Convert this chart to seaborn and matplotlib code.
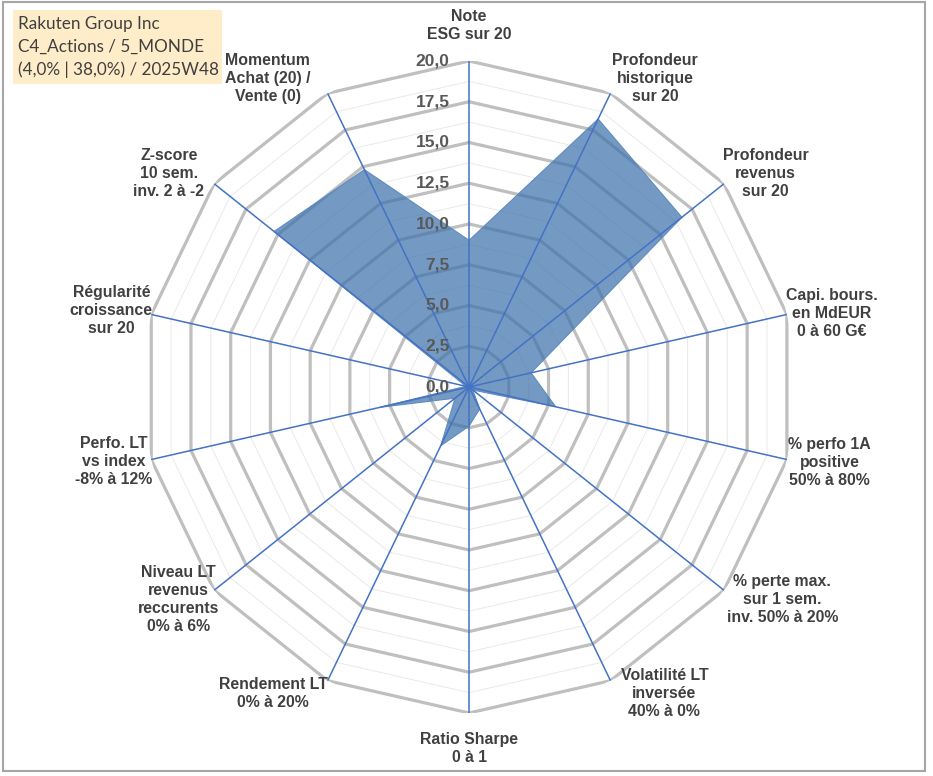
import numpy as np
import seaborn as sns
import matplotlib.pyplot as plt
from matplotlib.patches import Rectangle

# Données du radar (sens horaire depuis le haut)
categories = [
    "Note\nESG sur 20",
    "Profondeur\nhistorique\nsur 20",
    "Profondeur\nrevenus\nsur 20",
    "Capi. bours.\nen MdEUR\n0 à 60 G€",
    "% perfo 1A\npositive\n50% à 80%",
    "% perte max.\nsur 1 sem.\ninv. 50% à 20%",
    "Volatilité LT\ninversée\n40% à 0%",
    "Ratio Sharpe\n0 à 1",
    "Rendement LT\n0% à 20%",
    "Niveau LT\nrevenus\nreccurents\n0% à 6%",
    "Perfo. LT\nvs index\n-8% à 12%",
    "Régularité\ncroissance\nsur 20",
    "Z-score\n10 sem.\ninv. 2 à -2",
    "Momentum\nAchat (20) /\nVente (0)",
]
values = [9.0, 18.25, 16.7, 3.9, 5.45, 0.3, 1.5, 2.4, 4.0, 1.1, 5.6, 0.2, 15.3, 14.8]
rticks = [0.0, 2.5, 5.0, 7.5, 10.0, 12.5, 15.0, 17.5, 20.0]
rtick_labels = ["0,0", "2,5", "5,0", "7,5", "10,0", "12,5", "15,0", "17,5", "20,0"]
title_lines = ["Rakuten Group Inc", "C4_Actions / 5_MONDE", "(4,0% | 38,0%) / 2025W48"]

# position des libellés (angle en degrés, rayon en unités)
label_pos = [(0, 22.15), (31.1, 22.1), (54.3, 22.4), (78.5, 22.7), (101.9, 22.6),
             (124.1, 23.2), (147.5, 22.3), (180, 22.2), (212.6, 22.3), (233.8, 22.1),
             (258.1, 22.3), (282.1, 22.45), (305.4, 22.6), (326.9, 22.6)]

sns.set_theme(style="white")
plt.rcParams['font.family'] = ['Liberation Sans', 'DejaVu Sans']

fig = plt.figure(figsize=(9.33, 7.76), dpi=100)
ax = fig.add_axes([0.1533, 0.0812, 0.6989, 0.8402], projection='polar')
ax.set_theta_zero_location('N')
ax.set_theta_direction(-1)

n = len(categories)
theta = np.linspace(0, 2 * np.pi, n, endpoint=False)
theta_closed = np.append(theta, theta[0])

# grille polygonale
for r in np.arange(1.25, 20.01, 1.25):
    major = abs(r / 2.5 - round(r / 2.5)) < 1e-6
    ax.plot(theta_closed, [r] * (n + 1),
            color='#BFBFBF' if major else '#E9E9E9',
            lw=2.3 if major else 0.7, zorder=1, solid_joinstyle='miter')

# surface
vals_closed = values + values[:1]
ax.fill(theta_closed, vals_closed, color='#3f73ad', alpha=0.72, lw=0, zorder=2)
ax.plot(theta_closed, vals_closed, color='#5f8cc0', lw=0.8, zorder=2)

# rayons
for t in theta:
    ax.plot([t, t], [0, 20], color='#4472C4', lw=1.1, zorder=3)

ax.set_ylim(0, 20)
ax.set_xticks([])
ax.set_yticks([])
ax.grid(False)
ax.spines['polar'].set_visible(False)
ax.set_facecolor('none')

for v, lab in zip(rticks, rtick_labels):
    ax.annotate(lab, xy=(0, v), xytext=(-14, 0), textcoords='offset points',
                ha='right', va='center', fontsize=12.5, fontweight='bold',
                color='#595959', zorder=4)

for lab, (a, r) in zip(categories, label_pos):
    ax.text(np.deg2rad(a), r, lab, ha='center', va='center', fontsize=11.4,
            fontweight='bold', color='#404040', linespacing=1.25, clip_on=False)

# cadre et encart titre
fig.patches.append(Rectangle((0.003, 0.007), 0.988, 0.99, transform=fig.transFigure,
                             fill=False, edgecolor='#A6A6A6', lw=1.5))
fig.patches.append(Rectangle((13 / 933, 1 - 84 / 776), 209 / 933, 74 / 776,
                             transform=fig.transFigure, facecolor='#FFEDC9',
                             edgecolor='none'))
for i, line in enumerate(title_lines):
    fig.text(18 / 933, 1 - (24 + 23 * i) / 776, line, ha='left', va='center',
             fontsize=12.3, color='#404040', family=['Lato', 'DejaVu Sans'])

fig.savefig('out.png', dpi=100)
